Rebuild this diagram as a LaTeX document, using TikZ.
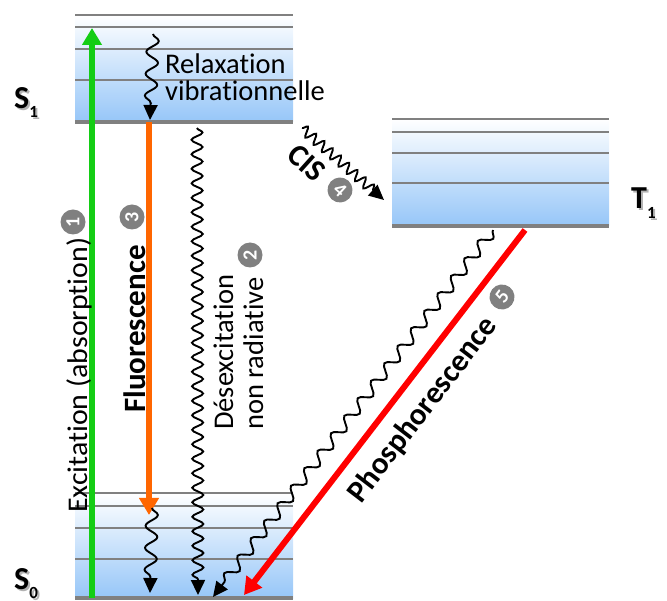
\documentclass[tikz,border=0pt]{standalone}
\usepackage{fontspec}
\setmainfont{Carlito}[Ligatures=NoCommon]
\usetikzlibrary{arrows.meta,decorations.pathmorphing}
\definecolor{lvl}{RGB}{128,128,128}
\definecolor{blk}{RGB}{150,198,248}
\definecolor{grn}{RGB}{20,205,20}
\definecolor{org}{RGB}{255,102,0}
\definecolor{rd}{RGB}{255,0,0}
\definecolor{circ}{RGB}{128,128,128}
\begin{document}
\begin{tikzpicture}[x=1pt,y=-1pt,
  level/.style={draw=lvl,line width=2pt},
  ground/.style={draw=lvl,line width=4.5pt},
  band/.style={top color=white,bottom color=blk,draw=none},
  radarrow/.style={line width=6pt,-{Triangle[length=17pt,width=19pt]}},
  wavy/.style 2 args={line width=1.9pt,-{Triangle[length=15pt,width=14pt]},decorate,
    decoration={snake,segment length=#1,amplitude=#2,post length=14pt}},
  reg/.style={font=\fontsize{28.5}{30}\selectfont,inner sep=0pt},
  bld/.style={font=\bfseries\fontsize{31}{33}\selectfont,inner sep=0pt},
  numc/.style={circle,fill=circ,text=white,inner sep=0pt,minimum size=25pt,
    font=\bfseries\fontsize{20}{20}\selectfont},
  lab/.style={font=\bfseries\fontsize{32}{34}\selectfont,inner sep=0pt,anchor=base west},
  labsh/.style={lab,text=black!30}
]
\useasboundingbox (0,0) rectangle (667,601);
% S1 block
\fill[band] (75,15) rectangle (293,122);
\foreach \y in {15,27,49,80} \draw[level] (75,\y) -- (293,\y);
\draw[ground] (75,122) -- (293,122);
% T1 block
\fill[band] (392,119) rectangle (609,226);
\foreach \y in {119,132,153,183} \draw[level] (392,\y) -- (609,\y);
\draw[ground] (392,226) -- (609,226);
% S0 block
\fill[band] (75,493) rectangle (293,598);
\foreach \y in {493,506,528,559} \draw[level] (75,\y) -- (293,\y);
\draw[ground] (75,598) -- (293,598);

% coordinates
\coordinate (gA) at (92,598); \coordinate (gB) at (92,28);
\coordinate (oA) at (149,122); \coordinate (oB) at (149,515);
\coordinate (rvA) at (153,34); \coordinate (rvB) at (150,120);
\coordinate (ovA) at (152,508); \coordinate (ovB) at (150,593);
\coordinate (nrA) at (197,128); \coordinate (nrB) at (198,595);
\coordinate (cisA) at (302,128); \coordinate (cisB) at (384,200);
\coordinate (tsA) at (493,230); \coordinate (tsB) at (213,597);
\coordinate (phA) at (525,230); \coordinate (phB) at (244,595);

% arrows
\draw[radarrow,grn] (gA) -- (gB);
\draw[radarrow,org] (oA) -- (oB);
\draw[radarrow,rd] (phA) -- (phB);
\draw[wavy={22pt}{6pt}] (rvA) -- (rvB);
\draw[wavy={22pt}{6pt}] (ovA) -- (ovB);
\draw[wavy={14.5pt}{5.5pt}] (nrA) -- (nrB);
\draw[wavy={11pt}{5pt}] (cisA) -- (cisB);
\draw[wavy={22pt}{5.5pt}] (tsA) -- (tsB);

% texts
\node[reg,anchor=base west] (relax1) at (165,74) {Relaxation};
\node[reg,anchor=base west] (relax2) at (165,101) {vibrationnelle};
\node[reg,anchor=base west,rotate=90] (exc) at (87,513) {\scalebox{1.05}[1]{Excitation (absorption)}};
\node[numc,rotate=90] (c1) at (73,222) {1};
\node[bld,anchor=base west,rotate=90] (flu) at (145,413) {Fluorescence};
\node[numc,rotate=90] (c3) at (132,217) {3};
\node[reg,anchor=base west,rotate=90] (des1) at (233,430) {Désexcitation};
\node[reg,anchor=base west,rotate=90] (des2) at (263,430) {non radiative};
\node[numc,rotate=90] (c2) at (250,255) {2};
\node[bld,rotate=-42] (cis) at (307,163) {CIS};
\node[numc,rotate=-42] (c4) at (340,190) {4};
\node[bld,rotate=52.5] (pho) at (423,410) {Phosphorescence};
\node[numc,rotate=52.5] (c5) at (502,297) {5};

% state labels
\node[labsh] at (16,111) {S\lower9pt\hbox{\fontsize{17}{17}\selectfont 1}};
\node[lab] (S1) at (14,109) {S\lower9pt\hbox{\fontsize{17}{17}\selectfont 1}};
\node[labsh] at (16,591) {S\lower9pt\hbox{\fontsize{17}{17}\selectfont 0}};
\node[lab] (S0) at (14,589) {S\lower9pt\hbox{\fontsize{17}{17}\selectfont 0}};
\node[labsh] at (633,211) {T\lower10pt\hbox{\fontsize{17}{17}\selectfont 1}};
\node[lab] (T1) at (631,209) {T\lower10pt\hbox{\fontsize{17}{17}\selectfont 1}};
\end{tikzpicture}
\end{document}
